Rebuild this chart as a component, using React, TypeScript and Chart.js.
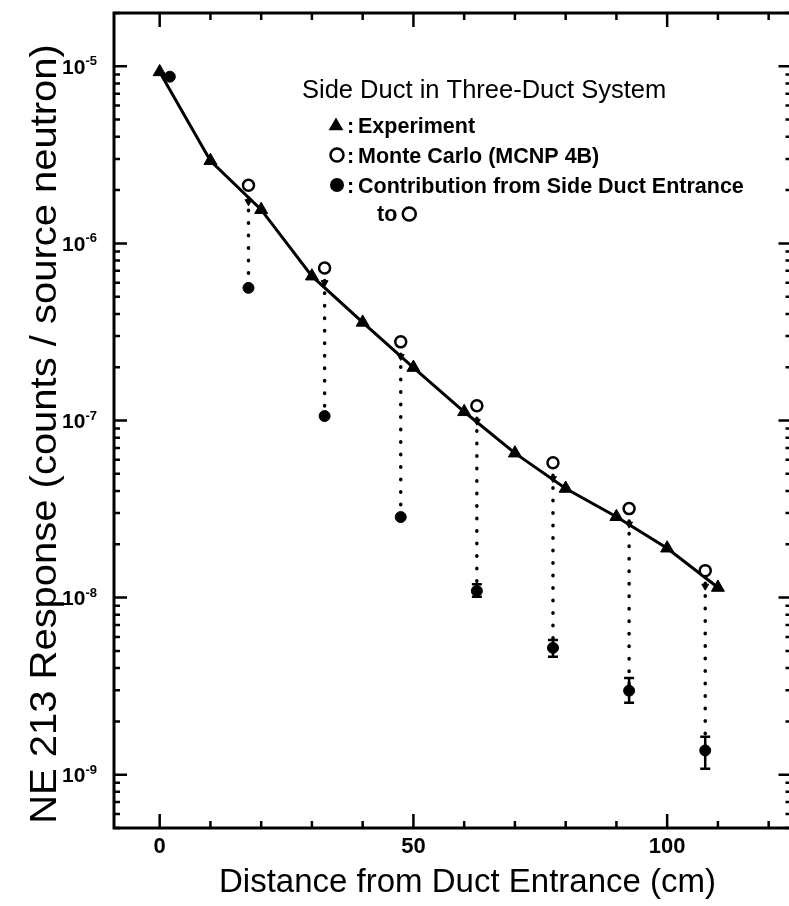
import React, { useEffect, useRef } from "react";
import { Chart, registerables } from "chart.js";

Chart.register(...registerables);

const FONT = '"Liberation Sans", Arial, Helvetica, sans-serif';

// ---- data ----
const experimentX = [0, 10, 20, 30, 40, 50, 60, 70, 80, 90, 100, 110];
const experimentY = [9.3e-6, 2.93e-6, 1.55e-6, 6.53e-7, 3.58e-7, 1.99e-7, 1.12e-7, 6.54e-8, 4.13e-8, 2.86e-8, 1.9e-8, 1.14e-8];

const monteCarloX = [17.5, 32.5, 47.5, 62.5, 77.5, 92.5, 107.5];
const monteCarloY = [2.13e-6, 7.26e-7, 2.78e-7, 1.21e-7, 5.77e-8, 3.18e-8, 1.42e-8];
// small marks where the dotted drop lines leave the Monte Carlo points
const dropMarkY = [1.72e-6, 6.0e-7, 2.3e-7, 9.9e-8, 4.7e-8, 2.6e-8, 1.16e-8];

const contributionX = [2, 17.5, 32.5, 47.5, 62.5, 77.5, 92.5, 107.5];
const contributionY = [8.74e-6, 5.61e-7, 1.06e-7, 2.85e-8, 1.09e-8, 5.2e-9, 2.98e-9, 1.37e-9];
const contributionErrLow = [null, null, null, null, 1.01e-8, 4.63e-9, 2.55e-9, 1.08e-9];
const contributionErrHigh = [null, null, null, null, 1.19e-8, 5.77e-9, 3.52e-9, 1.64e-9];

// ---- axes ----
const xRange = [-9, 124.5];
const yRange = [5e-10, 2e-5];
const xMajorTicks = [0, 50, 100];
const xTickLabels = ["0", "50", "100"];
const xMinorTicks = [10, 20, 30, 40, 60, 70, 80, 90, 110, 120];
const yDecades = [1e-9, 1e-8, 1e-7, 1e-6, 1e-5];
const yTickBase = "10";
const yTickExponents = ["-9", "-8", "-7", "-6", "-5"];
const yMinorMantissas = [2, 3, 4, 5, 6, 7, 8, 9];
const yMinorDecades = [1e-10, 1e-9, 1e-8, 1e-7, 1e-6, 1e-5];

const xTitle = "Distance from Duct Entrance (cm)";
const yTitle = "NE 213 Response (counts / source neutron)";
const legendTitle = "Side Duct in Three-Duct System";
const legendLabels = ["Experiment", "Monte Carlo (MCNP 4B)", "Contribution from Side Duct Entrance", "to"];

function drawTriangle(ctx: CanvasRenderingContext2D, cx: number, cy: number, r: number) {
  ctx.beginPath();
  ctx.moveTo(cx, cy - r);
  ctx.lineTo(cx + r * 0.866, cy + r * 0.5);
  ctx.lineTo(cx - r * 0.866, cy + r * 0.5);
  ctx.closePath();
  ctx.fill();
}

const decorPlugin = {
  id: "decor",
  afterDatasetsDraw(chart: any) {
    const { ctx, chartArea: a, scales } = chart;
    const xs = scales.x;
    const ys = scales.y;
    ctx.save();
    ctx.strokeStyle = "#000";
    ctx.fillStyle = "#000";

    // error bars
    ctx.lineWidth = 2.5;
    contributionX.forEach((x, i) => {
      const lo = contributionErrLow[i];
      const hi = contributionErrHigh[i];
      if (lo == null || hi == null) return;
      const px = xs.getPixelForValue(x);
      const p1 = ys.getPixelForValue(lo);
      const p2 = ys.getPixelForValue(hi);
      ctx.beginPath();
      ctx.moveTo(px, p1);
      ctx.lineTo(px, p2);
      ctx.moveTo(px - 5, p1);
      ctx.lineTo(px + 5, p1);
      ctx.moveTo(px - 5, p2);
      ctx.lineTo(px + 5, p2);
      ctx.stroke();
    });

    // frame
    ctx.lineWidth = 3;
    ctx.strokeRect(a.left, a.top, a.right - a.left, a.bottom - a.top);

    // x ticks (inward, bottom and top)
    ctx.lineWidth = 2.5;
    const xTick = (v: number, len: number) => {
      const px = xs.getPixelForValue(v);
      ctx.beginPath();
      ctx.moveTo(px, a.bottom);
      ctx.lineTo(px, a.bottom - len);
      ctx.moveTo(px, a.top);
      ctx.lineTo(px, a.top + len);
      ctx.stroke();
    };
    xMajorTicks.forEach((v) => xTick(v, 14));
    xMinorTicks.forEach((v) => xTick(v, 7));

    // y ticks (inward, left and right)
    const yTick = (v: number, len: number) => {
      if (v < yRange[0] || v > yRange[1]) return;
      const py = ys.getPixelForValue(v);
      ctx.beginPath();
      ctx.moveTo(a.left, py);
      ctx.lineTo(a.left + len, py);
      ctx.moveTo(a.right, py);
      ctx.lineTo(a.right - len, py);
      ctx.stroke();
    };
    yDecades.forEach((v) => yTick(v, 13));
    yMinorDecades.forEach((d) => yMinorMantissas.forEach((m) => yTick(d * m, 6)));

    // x tick labels
    ctx.font = `bold 22px ${FONT}`;
    ctx.textAlign = "center";
    ctx.textBaseline = "alphabetic";
    xMajorTicks.forEach((v, i) => {
      ctx.fillText(xTickLabels[i], xs.getPixelForValue(v), a.bottom + 25);
    });

    // y tick labels 10^n
    yDecades.forEach((v, i) => {
      const py = ys.getPixelForValue(v);
      ctx.font = `bold 13px ${FONT}`;
      ctx.textAlign = "right";
      const expRight = a.left - 17;
      ctx.fillText(yTickExponents[i], expRight, py - 1);
      const ew = ctx.measureText(yTickExponents[i]).width;
      ctx.font = `bold 21px ${FONT}`;
      ctx.fillText(yTickBase, expRight - ew, py + 7.5);
    });

    // axis titles
    ctx.font = `33px ${FONT}`;
    ctx.textAlign = "center";
    ctx.fillText(xTitle, (a.left + 789) / 2 + 16, 892);

    ctx.save();
    ctx.translate(56, 434);
    ctx.rotate(-Math.PI / 2);
    ctx.scale(1.08, 1);
    ctx.font = `37px ${FONT}`;
    ctx.textAlign = "center";
    ctx.fillText(yTitle, 0, 0);
    ctx.restore();

    // legend
    ctx.textAlign = "left";
    ctx.font = `25.5px ${FONT}`;
    ctx.fillText(legendTitle, 302, 98);

    ctx.font = `bold 21.5px ${FONT}`;
    const rowsBase = [133, 163, 193];
    drawTriangle(ctx, 336, 126, 8.5);
    ctx.lineWidth = 2.5;
    ctx.beginPath();
    ctx.arc(337, 155, 6.5, 0, Math.PI * 2);
    ctx.stroke();
    ctx.beginPath();
    ctx.arc(337, 185, 7, 0, Math.PI * 2);
    ctx.fill();
    rowsBase.forEach((b, i) => {
      ctx.fillText(":", 347, b);
      ctx.fillText(legendLabels[i], 358, b);
    });
    ctx.fillText(legendLabels[3], 377, 221);
    const tw = ctx.measureText(legendLabels[3] + " ").width;
    ctx.beginPath();
    ctx.arc(377 + tw + 6, 214, 6.5, 0, Math.PI * 2);
    ctx.stroke();

    ctx.restore();
  },
};

export default function App() {
  const canvasRef = useRef<HTMLCanvasElement | null>(null);

  useEffect(() => {
    if (!canvasRef.current) return;

    const dottedSets = monteCarloX.map((x, i) => {
      const j = contributionX.indexOf(x);
      return {
        label: "link" + i,
        data: [
          { x, y: monteCarloY[i] },
          { x, y: contributionY[j] },
        ],
        showLine: true,
        borderColor: "#000",
        borderWidth: 3.5,
        borderDash: [0.5, 12],
        borderCapStyle: "round" as const,
        pointRadius: 0,
      };
    });

    const chart = new Chart(canvasRef.current, {
      type: "scatter",
      data: {
        datasets: [
          {
            label: "Monte Carlo (MCNP 4B)",
            data: monteCarloX.map((x, i) => ({ x, y: monteCarloY[i] })),
            pointStyle: "circle",
            pointRadius: 5.5,
            pointBorderWidth: 2.5,
            pointBackgroundColor: "#fff",
            pointBorderColor: "#000",
            showLine: false,
          },
          {
            label: "Contribution from Side Duct Entrance",
            data: contributionX.map((x, i) => ({ x, y: contributionY[i] })),
            pointStyle: "circle",
            pointRadius: 5.5,
            pointBorderWidth: 1,
            pointBackgroundColor: "#000",
            pointBorderColor: "#000",
            showLine: false,
          },
          {
            label: "Experiment",
            data: experimentX.map((x, i) => ({ x, y: experimentY[i] })),
            showLine: true,
            borderColor: "#000",
            borderWidth: 3,
            pointStyle: "triangle",
            pointRadius: 7.5,
            pointBorderWidth: 1,
            pointBackgroundColor: "#000",
            pointBorderColor: "#000",
          },
          {
            label: "drop marks",
            data: monteCarloX.map((x, i) => ({ x, y: dropMarkY[i] })),
            showLine: false,
            pointStyle: "triangle",
            pointRotation: 180,
            pointRadius: 4,
            pointBorderWidth: 1,
            pointBackgroundColor: "#000",
            pointBorderColor: "#000",
          },
          ...dottedSets,
        ],
      },
      options: {
        responsive: false,
        animation: false,
        devicePixelRatio: 1,
        layout: { padding: { left: 114, top: 13, right: 5, bottom: 78 } },
        plugins: { legend: { display: false }, tooltip: { enabled: false } },
        events: [],
        scales: {
          x: { type: "linear", min: xRange[0], max: xRange[1], display: false },
          y: { type: "logarithmic", min: yRange[0], max: yRange[1], display: false },
        },
      },
      plugins: [decorPlugin],
    });

    return () => chart.destroy();
  }, []);

  return (
    <div
      style={{
        position: "absolute",
        left: 0,
        top: 0,
        width: 789,
        height: 906,
        overflow: "hidden",
        background: "#fff",
      }}
    >
      <canvas ref={canvasRef} width={800} height={906} style={{ display: "block" }} />
    </div>
  );
}
